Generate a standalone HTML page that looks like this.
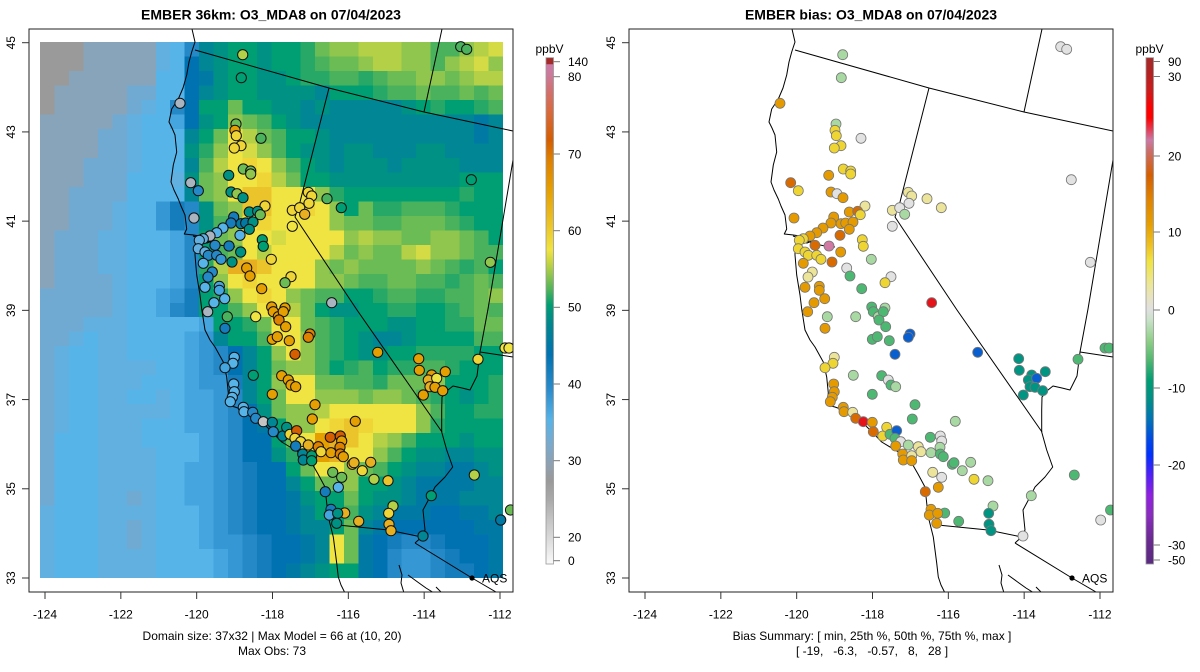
<!DOCTYPE html>
<html><head><meta charset="utf-8">
<style>
html,body{margin:0;padding:0;background:#fff;}
svg{display:block;}
text{font-family:"Liberation Sans",Arial,sans-serif;fill:#000;}
</style></head>
<body>
<svg id="s" xmlns="http://www.w3.org/2000/svg" width="1200" height="672" viewBox="0 0 1200 672">
<defs>
<linearGradient id="cb1" x1="0" y1="0" x2="0" y2="1">
<stop offset="0" stop-color="#a52a2a"/><stop offset="0.0124" stop-color="#a52a2a"/>
<stop offset="0.0135" stop-color="#cc79a7"/><stop offset="0.034" stop-color="#cc7a9a"/>
<stop offset="0.064" stop-color="#d27070"/><stop offset="0.103" stop-color="#d96a40"/>
<stop offset="0.163" stop-color="#d55e00"/><stop offset="0.202" stop-color="#df8000"/>
<stop offset="0.261" stop-color="#e69f00"/><stop offset="0.33" stop-color="#ecc428"/>
<stop offset="0.38" stop-color="#f0e442"/><stop offset="0.403" stop-color="#c8d640"/>
<stop offset="0.429" stop-color="#90c64d"/><stop offset="0.459" stop-color="#4db35a"/>
<stop offset="0.488" stop-color="#009e73"/><stop offset="0.528" stop-color="#00868f"/>
<stop offset="0.587" stop-color="#0072b2"/><stop offset="0.656" stop-color="#2a8ccc"/>
<stop offset="0.716" stop-color="#56b4e9"/><stop offset="0.765" stop-color="#7aaacc"/>
<stop offset="0.805" stop-color="#8fa0b0"/><stop offset="0.834" stop-color="#999999"/>
<stop offset="0.874" stop-color="#aaaaaa"/><stop offset="0.913" stop-color="#c4c4c4"/>
<stop offset="0.953" stop-color="#dcdcdc"/><stop offset="0.984" stop-color="#f0f0f0"/>
<stop offset="1" stop-color="#fafafa"/>
</linearGradient>
<linearGradient id="cb2" x1="0" y1="0" x2="0" y2="1">
<stop offset="0" stop-color="#a52a2a"/><stop offset="0.03" stop-color="#b22222"/>
<stop offset="0.064" stop-color="#cc1c1c"/><stop offset="0.099" stop-color="#ff0000"/>
<stop offset="0.119" stop-color="#ff0000"/><stop offset="0.139" stop-color="#e8344a"/>
<stop offset="0.163" stop-color="#cc79a7"/><stop offset="0.182" stop-color="#cc6e6e"/>
<stop offset="0.232" stop-color="#d55e00"/><stop offset="0.281" stop-color="#e08400"/>
<stop offset="0.33" stop-color="#e69f00"/><stop offset="0.37" stop-color="#eec020"/>
<stop offset="0.403" stop-color="#f0e442"/><stop offset="0.449" stop-color="#ece69a"/>
<stop offset="0.478" stop-color="#e6e2c8"/><stop offset="0.498" stop-color="#e0e0e0"/>
<stop offset="0.518" stop-color="#c8e2c8"/><stop offset="0.558" stop-color="#90d088"/>
<stop offset="0.597" stop-color="#50b870"/><stop offset="0.637" stop-color="#009e73"/>
<stop offset="0.676" stop-color="#008f88"/><stop offset="0.716" stop-color="#0072b8"/>
<stop offset="0.755" stop-color="#0048e8"/><stop offset="0.785" stop-color="#0030ff"/>
<stop offset="0.824" stop-color="#5020f8"/><stop offset="0.864" stop-color="#9020e0"/>
<stop offset="0.903" stop-color="#8a2cc0"/><stop offset="0.953" stop-color="#6a2a90"/>
<stop offset="1" stop-color="#5a2a80"/>
</linearGradient>
<clipPath id="clipL"><rect x="29" y="29" width="484" height="563"/></clipPath>
<clipPath id="clipR"><rect x="629" y="29" width="484" height="563"/></clipPath>
<g id="map" fill="none" stroke="#000" stroke-width="1" stroke-linejoin="round">
<path d="M192,29 L195,42 L193,48 L191.7,52 L189,62 L186.7,75 L183,88 L178.3,99 L171.7,109 L169,122 L172,128 L175,135 L176.7,152 L173.3,165 L171,182 L174,190 L178.3,199 L181,206 L185,215 L186.7,229 L184.3,234 L193.3,235 L200,236 L206,238 L212,241 L207,243 L200,242 L195,245 L195,255 L196.7,275 L200,295 L201.7,309 L205,330 L210,340 L215,347 L223.3,362 L226.7,377 L228.3,393 L226.7,405 L235,407 L243.3,410 L255,417 L265,425 L273,433 L281.7,442 L295,450 L303,455 L311.7,463 L318,474 L325,487 L326.7,503 L328.3,517 L333.3,537 L335,550 L336.7,563 L338.3,577 L341,585 L345,593"/>
<path d="M193,236 L205,240 L215,244 L225,246 L235,247"/>
<path d="M195,50 L329,88 L424,112 L513,131"/>
<path d="M329,88 L300,202 L295,217 L357,310 L442,432"/>
<path d="M442,29 L424,112"/>
<path d="M513,160 L488,309 L480,352 L477,376 L470,390 L462,388 L453,386 L448,390 L442,397 L441.7,410 L441.7,432 L446.7,450 L452.7,467 L445,477 L435,487 L430,497 L423,510 L425,530 L421.7,537 L415,543"/>
<path d="M480,352 L513,357"/>
<path d="M337.7,525 L388,530 L421.7,537"/>
<path d="M415,543 L472,578 L496,592"/>
<path d="M399,565 L402,575 L401,583 L404,593 M408,575 L419,583 L426,588 L434,593 M436,587 L442,593"/>
</g>
</defs>
<rect width="1200" height="672" fill="#fff"/>
<g id="rast" shape-rendering="crispEdges"></g>
<g clip-path="url(#clipL)"><use href="#map"/></g>
<g clip-path="url(#clipR)"><use href="#map" transform="translate(600,0)"/></g>
<g id="ptsL" clip-path="url(#clipL)"></g>
<g id="ptsR" clip-path="url(#clipR)"></g>

<circle cx="472" cy="578" r="2.6" fill="#000"/>
<text x="482" y="582.5" font-size="12">AQS</text>
<circle cx="1072" cy="578" r="2.6" fill="#000"/>
<text x="1082" y="582.5" font-size="12">AQS</text>

<rect x="29" y="29" width="484" height="563" fill="none" stroke="#222" stroke-width="1"/>
<rect x="629" y="29" width="484" height="563" fill="none" stroke="#222" stroke-width="1"/>

<text x="271" y="19.5" font-size="14" font-weight="bold" text-anchor="middle">EMBER 36km: O3_MDA8 on 07/04/2023</text>
<text x="871" y="19.5" font-size="14" font-weight="bold" text-anchor="middle">EMBER bias: O3_MDA8 on 07/04/2023</text>

<g id="axes" stroke="#333" stroke-width="1"></g>
<g id="axtext" font-size="12"></g>

<text x="272" y="640" font-size="12" text-anchor="middle">Domain size: 37x32 | Max Model = 66 at (10, 20)</text>
<text x="272" y="655" font-size="12" text-anchor="middle">Max Obs: 73</text>
<text x="872" y="640" font-size="12" text-anchor="middle">Bias Summary: [ min, 25th %, 50th %, 75th %, max ]</text>
<text x="872" y="655" font-size="12" text-anchor="middle" xml:space="preserve">[ -19,   -6.3,   -0.57,   8,   28 ]</text>

<rect x="546" y="57.7" width="7.5" height="506.3" fill="url(#cb1)" stroke="#999" stroke-width="0.8"/>
<rect x="1146" y="57.7" width="7.5" height="506.3" fill="url(#cb2)" stroke="#999" stroke-width="0.8"/>
<text x="549.5" y="53" font-size="12" text-anchor="middle">ppbV</text>
<text x="1149.5" y="53" font-size="12" text-anchor="middle">ppbV</text>
<g id="cbt" stroke="#777" stroke-width="1"></g>
<g id="cbl" font-size="12"></g>
</svg>
<script>
(function(){
var NS='http://www.w3.org/2000/svg';
function mk(tag,attrs,parent,txt){var e=document.createElementNS(NS,tag);for(var k in attrs)e.setAttribute(k,attrs[k]);if(txt!==undefined)e.textContent=txt;parent.appendChild(e);return e;}
var C={a:'#9a9a9a',b:'#88a4ba',c:'#70aad2',d:'#62b0e0',e:'#56b4e9',f:'#45a5de',g:'#3597d3',h:'#2589c8',i:'#167dbd',j:'#0072b2',k:'#007aa4',l:'#008695',m:'#009185',n:'#009e73',o:'#28a866',p:'#4ab25c',q:'#6cbc55',r:'#90c64d',s:'#b4d046',t:'#d4db44',u:'#f0e442',v:'#efd536',w:'#ebc42b',x:'#e8b020',y:'#e69f00',z:'#de8000',A:'#d55e00',X:'#a9b4c0',Z:'#c4c4c4'};
var R2={O:'#e59a00',D:'#d86a00',Y:'#efd531',P:'#ebe49a',W:'#e2e2e2',G:'#a8d9a2',H:'#4cb872',T:'#009482',B:'#0a5fd0',R:'#e4141a',K:'#d27aa4'};
var pre=["aaabbbbb","aaabbbbb","aabbbbbb","abbbbbcc","abbbbbcd","bbbbbcde","bbbbccde","bbbbccde","bbbcccde","bbbcccee",
"bbccccee","bbcccdee","bbcccdee","bcccddee","bcccddee","bcccddee","bccccdee","cccccdee","cccccdee","cccdddee",
"ccdeddee","cdeeddee","cdeedddd","cdeeddde","cdeeddee","cdeedddd","cdeeddde","ceeeddde","ceeedddd","ceeedddd",
"ceeedddd","ceeeddcd","deeedddd","deeeddcd","deeeddcd","deeedddd","deeedddd"];
var suf=[
"dehlmnnmnnoqrrsssrrpprst",
"dejlmnnmnnopqqrssrrprstr",
"eejkmnnmmnooppopqqrrqrss",
"eejlmnnmmmmlnnnoppqppqpq",
"ehjnnqnnmmlmlllllmnonnop",
"efjmnrqpnmllllllllllllkl",
"eelnqusqpnnmllllllllllkl",
"eemorutrpnmmlmmlllmmllll",
"eelpsuvurpnmlmmmlmmmmlll",
"edmqruuvsqnnmmmmmmmmmnnn",
"eelqruwwuuuronnnnnnnnonn",
"gihmqrwwuuvurnqooppponnn",
"gihmpruvuuuurqqppqqqponn",
"efhnqruutuuuursrrqqrrqpn",
"efhnpqusuuuusqrqqstrrqpp",
"efhosxxwuuurqrqqqqrqpopn",
"efhnruvuuuurrqppqqppopqp",
"fginoruvurqppnnoppooppqr",
"fhinnpruusqnmmnnoonnopqp",
"eeefnnoquuqponnnmmnnooqq",
"eefglnnpuurponmllmnnnnpp",
"eefghjlnrurponmmnnoooonn",
"eefghjlnqrrpnopnoopponnn",
"eefggilnruuqqppoqqqrnnno",
"deffghlnquurrrqrrqponmno",
"deffghjmqrrsuuuuuurpnnoo",
"eeffghjknrruvwvuuuronnnn",
"eeefghjjnquyxwusrpnnnmnn",
"eeefghjjmouyxuurpnmmllmm",
"eeffghijjnquurqpnmllkklm",
"eeffghijjlnqqrnnmlkkkkll",
"eeffghijjkmnnqnmmlkkklll",
"eeefghijjklnnpmlkkkjjkkl",
"eeefghijjkllnqlkjjjjjjkk",
"eeefgghijjkluqkjihhijjjk",
"eeeefghijjkluqkjhgghijjk",
"eeeefghijklmnnkjhgghiijk"];
var g=document.getElementById('rast');
var cw=463/32, ch=536/37;
for(var r=0;r<37;r++){var row=(pre[r]||'cccccccc')+(suf[r]||'');while(row.length<32)row+=row.charAt(row.length-1)||'c';
 for(var c=0;c<32;c++){var x0=40+c*cw,y0=42+r*ch;var w=(c==31)?(503-x0):cw+0.5;var h=(r==36)?(578-y0):ch+0.5;
  mk('rect',{x:x0.toFixed(2),y:y0.toFixed(2),width:w.toFixed(2),height:h.toFixed(2),fill:C[row.charAt(c)]||'#6eaad4'},g);}}
var P=[
[242.7,54.7,'s','G'],[241.3,77.7,'n','G'],[180,103.3,'X','O'],[460.7,46.7,'p','W'],[466.7,49.3,'p','W'],
[236,124,'q','G'],[235,130.3,'y','Y'],[236.3,135.7,'v','Y'],[261,138.3,'p','W'],[241,145.7,'v','Y'],[234.3,148,'v','Y'],
[243.3,169,'q','Y'],[250.7,171,'q','Y'],[250.7,174,'r','Y'],[228.7,175.3,'m','O'],[190.7,182.7,'X','D'],[198.3,190.7,'h','Y'],
[231,192,'m','O'],[237,193.7,'r','W'],[243,197.7,'m','O'],[308.3,192.3,'v','P'],[311.7,196,'v','P'],[309,203.3,'v','W'],
[327,198.7,'p','P'],[341.3,207.7,'n','P'],[471.3,179.7,'n','W'],[265,206,'v','P'],[292.3,210.3,'v','P'],[299.7,207.7,'v','W'],
[304.7,214.3,'x','G'],[292.3,226.3,'u','W'],[249.3,212,'m','O'],[257.7,211.3,'m','D'],[260.3,214.7,'q','Y'],[194,218,'X','O'],
[233.7,217,'i','O'],[231,223,'i','O'],[241,223.7,'k','O'],[245.7,223,'k','O'],[253,222,'m','O'],[249.3,229.3,'m','O'],
[223,228,'e','O'],[216.7,232.7,'e','O'],[210,236,'X','O'],[240,235.3,'e','D'],[203.3,238.7,'d','Y'],[199.3,240.3,'d','Y'],
[198.3,248.7,'d','Y'],[205,252,'d','Y'],[215,245.3,'h','D'],[208.3,255.3,'h','Y'],[216.7,255.3,'h','Y'],[221,259.3,'g','Y'],
[229,246,'i','K'],[240.7,252,'m','O'],[262.3,239.7,'n','Y'],[263.3,246.3,'n','Y'],[271.3,259.3,'v','G'],[232,262,'m','D'],
[203.3,263.3,'e','O'],[246.7,268,'y','W'],[250,276,'y','H'],[212.3,272,'h','P'],[208,277,'h','P'],[291,276.7,'v','W'],
[285,282.7,'q','Y'],[261.7,288.7,'y','H'],[219.3,286.3,'f','O'],[219.3,290.3,'f','O'],[205,287.3,'e','O'],[224.7,298.7,'e','O'],
[214,302.7,'e','O'],[331.7,302.7,'X','R'],[490.3,262.3,'r','W'],[271.7,307,'y','H'],[285,308,'y','G'],[207.7,311.7,'X','O'],
[227.3,316.7,'p','G'],[255.7,316.7,'u','G'],[225,328.3,'i','O'],[273.3,311.7,'y','H'],[278.3,316.7,'y','G'],[283.3,311.7,'y','H'],
[279,320,'z','H'],[285.7,326.7,'y','H'],[310,334,'z','B'],[308.3,337.3,'z','B'],[272.3,339.3,'y','H'],[277.3,336.7,'y','H'],
[289.3,340.7,'y','H'],[295,354.3,'A','B'],[234.3,357.3,'e','P'],[233,363.3,'e','Y'],[225,367.7,'f','Y'],[253.3,375.3,'n','G'],
[281.7,375.7,'y','H'],[288.3,380,'y','W'],[291,385,'y','H'],[295.7,386.7,'y','G'],[272.3,394.3,'y','H'],
[233.7,384,'e','O'],[234.3,391.7,'e','O'],[232.3,397.3,'e','O'],[230.3,401.7,'e','O'],[315,404.7,'y','H'],[312.3,419,'y','H'],
[355.3,421.3,'y','G'],[243.3,407.3,'e','O'],[244,411.7,'e','O'],[252.7,412.3,'h','P'],[255.7,418.3,'h','D'],[263.3,421.7,'Z','R'],
[272.3,422.3,'l','O'],[273.3,431.7,'h','D'],[282.7,436,'l','Y'],[286.7,427.3,'m','Y'],[290,434.3,'v','H'],[296.7,430.7,'A','B'],
[295,438.3,'v','H'],[300.7,441.7,'v','W'],[295.7,446,'i','O'],[308.3,445,'x','G'],[318.3,446.7,'z','P'],[330.3,437.3,'A','H'],
[340.3,436,'A','W'],[341.7,441,'y','W'],[331,452.7,'y','G'],[340,447.3,'z','G'],[340.3,454,'z','H'],[343.3,456.7,'y','H'],
[321,451.7,'v','P'],[302.7,454,'l','O'],[303.3,460,'l','O'],[311.7,455.7,'n','P'],[311.7,460.7,'n','O'],[352.3,464.3,'x','H'],
[354,462.7,'x','H'],[370.7,462.3,'x','G'],[362.3,470.7,'v','G'],[332.7,472.3,'q','P'],[341.7,477.3,'q','W'],[374,479.3,'s','Y'],
[388,480.7,'w','G'],[338.3,487.3,'e','O'],[325.3,491.7,'i','D'],[377.7,352.3,'y','B'],[418.7,358.7,'y','T'],[419.3,370.3,'y','T'],
[431.7,375,'y','T'],[428.3,380,'x','T'],[436.7,378.3,'u','B'],[430,386.7,'x','T'],[435,387.3,'y','T'],[442.7,390.7,'y','T'],
[445.3,371.7,'y','T'],[423.3,395,'y','T'],[478,359.3,'v','H'],[474.3,475,'s','H'],[431.3,495.7,'n','G'],[393,506,'s','G'],
[388.7,513.3,'v','T'],[389,524.3,'x','T'],[391,530.7,'x','T'],[358.7,521.3,'x','H'],[344.7,513,'x','H'],[331,509.3,'i','O'],
[329.3,515,'f','O'],[337.7,513.3,'m','O'],[336.7,523.3,'m','O'],[423,536,'l','W'],[500.7,520,'k','W'],[505,348,'u','H'],
[509,348,'u','H'],[510.5,510,'q','H']];
var gl=document.getElementById('ptsL'),gr=document.getElementById('ptsR');
P.forEach(function(p){
 mk('circle',{cx:p[0],cy:p[1],r:5.1,fill:C[p[2]]||'#999',stroke:'#111','stroke-width':1},gl);
 mk('circle',{cx:p[0]+600,cy:p[1],r:5,fill:R2[p[3]]||'#ddd',stroke:'#777','stroke-width':0.8},gr);
});
var ax=document.getElementById('axes'),at=document.getElementById('axtext');
var xl=['-124','-122','-120','-118','-116','-114','-112'];
var yl=['45','43','41','39','37','35','33'];
[0,600].forEach(function(off){
 for(var i=0;i<7;i++){
  var x=45+i*(455/6)+off;
  mk('line',{x1:x,y1:592,x2:x,y2:599},ax);
  mk('text',{x:x,y:618.5,'text-anchor':'middle'},at,xl[i]);
  var y=42.7+i*(535.3/6);
  mk('line',{x1:22+off,y1:y,x2:29+off,y2:y},ax);
  mk('text',{transform:'translate('+(15+off)+','+y+') rotate(-90)','text-anchor':'middle'},at,yl[i]);
 }
});
var ct=document.getElementById('cbt'),cl=document.getElementById('cbl');
var L1=[['140',61.7],['80',76.7],['70',154],['60',230.7],['50',307.3],['40',384],['30',460.7],['20',537.3],['0',560.7]];
var L2=[['90',61.5],['30',76.5],['20',156],['10',232],['0',310],['-10',388],['-20',465],['-30',545],['-50',560]];
L1.forEach(function(t){mk('line',{x1:553.5,y1:t[1],x2:560,y2:t[1]},ct);mk('text',{x:568,y:t[1]+4.3},cl,t[0]);});
L2.forEach(function(t){mk('line',{x1:1153.5,y1:t[1],x2:1160,y2:t[1]},ct);mk('text',{x:1168,y:t[1]+4.3},cl,t[0]);});
})();
</script>
</body></html>
